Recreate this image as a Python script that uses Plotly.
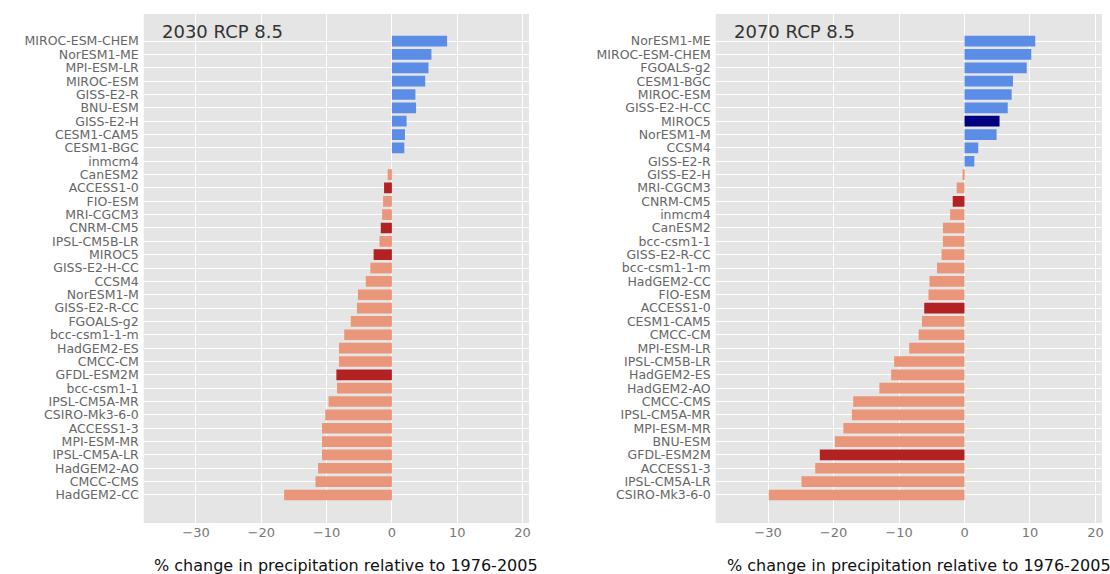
import plotly.graph_objects as go

# ---------------- data ----------------
models_2030 = ["MIROC-ESM-CHEM", "NorESM1-ME", "MPI-ESM-LR", "MIROC-ESM", "GISS-E2-R",
               "BNU-ESM", "GISS-E2-H", "CESM1-CAM5", "CESM1-BGC", "inmcm4", "CanESM2",
               "ACCESS1-0", "FIO-ESM", "MRI-CGCM3", "CNRM-CM5", "IPSL-CM5B-LR", "MIROC5",
               "GISS-E2-H-CC", "CCSM4", "NorESM1-M", "GISS-E2-R-CC", "FGOALS-g2",
               "bcc-csm1-1-m", "HadGEM2-ES", "CMCC-CM", "GFDL-ESM2M", "bcc-csm1-1",
               "IPSL-CM5A-MR", "CSIRO-Mk3-6-0", "ACCESS1-3", "MPI-ESM-MR", "IPSL-CM5A-LR",
               "HadGEM2-AO", "CMCC-CMS", "HadGEM2-CC"]
values_2030 = [8.45, 6.05, 5.6, 5.1, 3.6, 3.7, 2.25, 2.0, 1.9, 0.0, -0.65,
               -1.2, -1.35, -1.5, -1.7, -1.9, -2.8,
               -3.3, -4.0, -5.2, -5.35, -6.3,
               -7.3, -8.1, -8.1, -8.5, -8.4,
               -9.7, -10.2, -10.7, -10.7, -10.7,
               -11.3, -11.7, -16.5]

models_2070 = ["NorESM1-ME", "MIROC-ESM-CHEM", "FGOALS-g2", "CESM1-BGC", "MIROC-ESM",
               "GISS-E2-H-CC", "MIROC5", "NorESM1-M", "CCSM4", "GISS-E2-R", "GISS-E2-H",
               "MRI-CGCM3", "CNRM-CM5", "inmcm4", "CanESM2", "bcc-csm1-1", "GISS-E2-R-CC",
               "bcc-csm1-1-m", "HadGEM2-CC", "FIO-ESM", "ACCESS1-0", "CESM1-CAM5",
               "CMCC-CM", "MPI-ESM-LR", "IPSL-CM5B-LR", "HadGEM2-ES", "HadGEM2-AO",
               "CMCC-CMS", "IPSL-CM5A-MR", "MPI-ESM-MR", "BNU-ESM", "GFDL-ESM2M",
               "ACCESS1-3", "IPSL-CM5A-LR", "CSIRO-Mk3-6-0"]
values_2070 = [10.8, 10.2, 9.5, 7.4, 7.2,
               6.6, 5.35, 4.9, 2.1, 1.5, -0.3,
               -1.2, -1.8, -2.2, -3.3, -3.3, -3.5,
               -4.2, -5.35, -5.5, -6.15, -6.5,
               -7.0, -8.45, -10.75, -11.2, -13.0,
               -17.0, -17.2, -18.5, -19.8, -22.1,
               -22.8, -24.9, -29.9]

highlight_models = ["ACCESS1-0", "CNRM-CM5", "MIROC5", "GFDL-ESM2M"]
panel_titles = ["2030 RCP 8.5", "2070 RCP 8.5"]
x_ticks = [-30, -20, -10, 0, 10, 20]
x_title = "% change in precipitation relative to 1976-2005"

# ---------------- styling ----------------
BLUE = "#5b8ce6"
NAVY = "#000080"
SALMON = "#e9967a"
DARKRED = "#b22222"
FONT = "DejaVu Sans"


def colours(models, values):
    out = []
    for m, v in zip(models, values):
        hl = m in highlight_models
        if v >= 0:
            out.append(NAVY if hl else BLUE)
        else:
            out.append(DARKRED if hl else SALMON)
    return out


fig = go.Figure()
fig.add_trace(go.Bar(y=models_2030, x=values_2030, orientation="h", width=0.8,
                     marker=dict(color=colours(models_2030, values_2030), line=dict(width=0)),
                     xaxis="x", yaxis="y", showlegend=False))
fig.add_trace(go.Bar(y=models_2070, x=values_2070, orientation="h", width=0.8,
                     marker=dict(color=colours(models_2070, values_2070), line=dict(width=0)),
                     xaxis="x2", yaxis="y2", showlegend=False))

W, H = 1110, 574
ytop, ybot = 14, 523
dom_y = [1 - ybot / H, 1 - ytop / H]
dom_x1 = [144 / W, 530 / W]
dom_x2 = [717 / W, 1104 / W]

xcommon = dict(range=[-38, 21], tickmode="array", tickvals=x_ticks,
               ticktext=["\u2212" + str(-t) if t < 0 else str(t) for t in x_ticks],
               showgrid=True, gridcolor="white", gridwidth=1, zeroline=False,
               ticks="", showline=False, tickfont=dict(family=FONT, size=13, color="#777777"))
n = len(models_2030)
ycommon = dict(type="category", range=[n - 1 + 2.1, -2.03], showgrid=True, gridcolor="white",
               gridwidth=1, ticks="", showline=False, ticklabelstandoff=4, tickmode="array",
               tickfont=dict(family=FONT, size=12.5, color="#666666"))

fig.update_layout(
    width=W, height=H,
    margin=dict(l=0, r=0, t=0, b=0),
    paper_bgcolor="white", plot_bgcolor="#e5e5e5",
    bargap=0.2,
    xaxis=dict(domain=dom_x1, anchor="y", **xcommon),
    yaxis=dict(domain=dom_y, anchor="x", categoryorder="array", categoryarray=models_2030,
               tickvals=models_2030, ticktext=models_2030, **ycommon),
    xaxis2=dict(domain=dom_x2, anchor="y2", **xcommon),
    yaxis2=dict(domain=dom_y, anchor="x2", categoryorder="array", categoryarray=models_2070,
                tickvals=models_2070, ticktext=models_2070, **ycommon),
)

anns = []
for i, (dx, t) in enumerate(zip([dom_x1, dom_x2], panel_titles)):
    anns.append(dict(text=t, xref="paper", yref="paper", x=dx[0] + 16 / W, y=1 - 32 / H,
                     xanchor="left", yanchor="middle", showarrow=False,
                     font=dict(family=FONT, size=18, color="#333333")))
    anns.append(dict(text=x_title, xref="paper", yref="paper", x=(dx[0] + dx[1]) / 2 + 10 / W,
                     y=1 - 565 / H, xanchor="center", yanchor="middle", showarrow=False,
                     font=dict(family=FONT, size=16, color="#111111")))
fig.update_layout(annotations=anns)

fig.write_html("out.html")
